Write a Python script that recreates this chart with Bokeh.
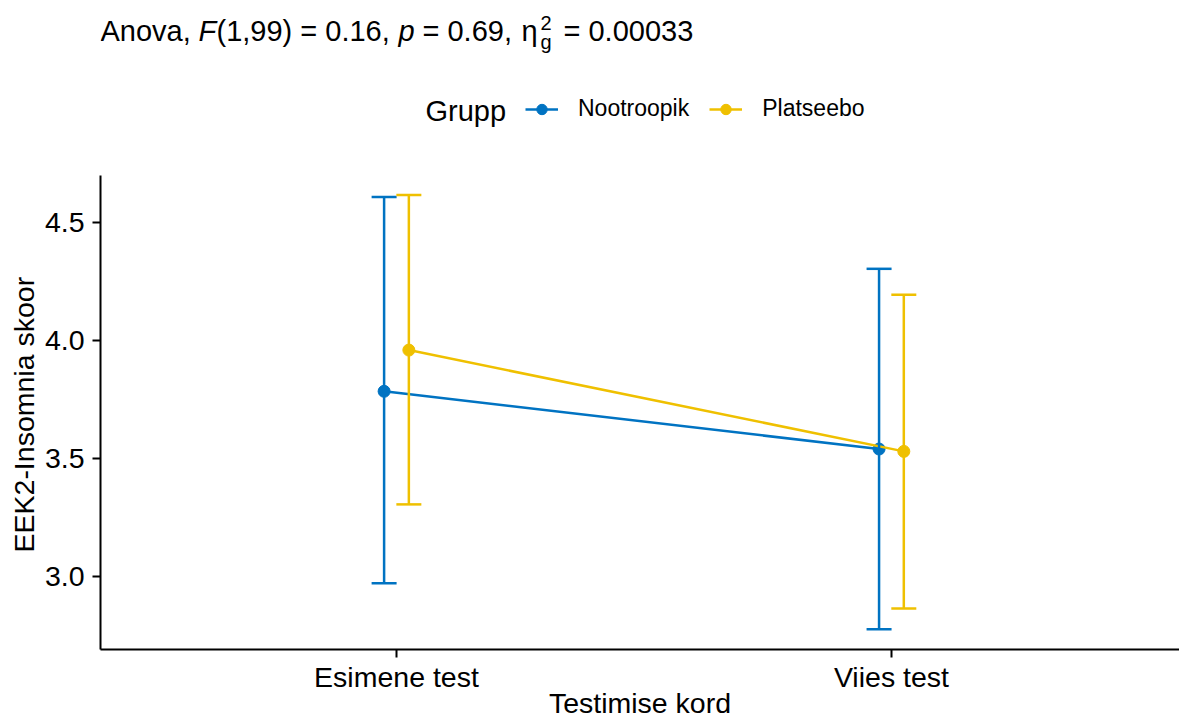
from bokeh.plotting import figure
from bokeh.models import (ColumnDataSource, Whisker, TeeHead, FixedTicker, Label,
                          Legend, LegendItem, Range1d, Title)
from bokeh.embed import file_html
from bokeh.resources import INLINE

# ---------------- data ----------------
categories = ["Esimene test", "Viies test"]
groups = ["Nootroopik", "Platseebo"]
colors = ["#0073C2", "#EFC000"]

noot_mean = [3.785, 3.540]
noot_lower = [2.970, 2.775]
noot_upper = [4.610, 4.305]

plat_mean = [3.960, 3.530]
plat_lower = [3.305, 2.863]
plat_upper = [4.618, 4.195]

y_ticks = [3.0, 3.5, 4.0, 4.5]
y_tick_labels = ["3.0", "3.5", "4.0", "4.5"]

x_title = "Testimise kord"
y_title = "EEK2-Insomnia skoor"
legend_title = "Grupp"

FONT = "Liberation Sans"
dodge = [-0.025, 0.025]

Y_MIN, Y_MAX = 2.689, 4.701          # visible panel range
Y_TOP = 5.444                          # extra headroom for title + legend (frame top)

p = figure(width=1179, height=722, output_backend="svg", toolbar_location=None,
           x_range=Range1d(0.402, 2.582), y_range=Range1d(Y_MIN, Y_TOP),
           min_border_left=100, min_border_right=0, min_border_top=0,
           min_border_bottom=73)
p.background_fill_color = "white"
p.border_fill_color = "white"
p.outline_line_color = None
p.grid.visible = False

xs_base = [i + 1 for i in range(len(categories))]
p.xaxis.ticker = FixedTicker(ticks=xs_base)
p.xaxis.major_label_overrides = {x: c for x, c in zip(xs_base, categories)}
p.yaxis.ticker = FixedTicker(ticks=y_ticks)
p.yaxis.major_label_overrides = {t: l for t, l in zip(y_ticks, y_tick_labels)}
p.yaxis.bounds = (Y_MIN, Y_MAX)

for ax in (p.xaxis, p.yaxis):
    ax.axis_line_width = 2
    ax.axis_line_color = "black"
    ax.major_tick_line_width = 2
    ax.major_tick_line_color = "black"
    ax.major_tick_in = 0
    ax.major_tick_out = 8
    ax.minor_tick_line_color = None
    ax.major_label_text_font = FONT
    ax.major_label_text_font_size = "28.5px"
    ax.major_label_text_color = "black"
    ax.major_label_text_line_height = 1.0
    ax.axis_label_text_font = FONT
    ax.axis_label_text_font_size = "28.5px"
    ax.axis_label_text_font_style = "normal"
    ax.axis_label_text_color = "black"
    ax.axis_label_text_line_height = 1.0
p.xaxis.major_label_standoff = 3
p.yaxis.major_label_standoff = 8
p.xaxis.axis_label = x_title
p.xaxis.axis_label_standoff = -9

# y-axis title, centred on the visible panel range (not the whole frame)
p.add_layout(Title(text=y_title, align="left", offset=97, standoff=4,
                   text_font=FONT, text_font_size="28.5px", text_font_style="normal",
                   text_color="black"), "left")

series = [(noot_mean, noot_lower, noot_upper), (plat_mean, plat_lower, plat_upper)]
legend_items = []
for gi, (name, col, (m, lo, up)) in enumerate(zip(groups, colors, series)):
    xs = [x + dodge[gi] for x in xs_base]
    src = ColumnDataSource(dict(x=xs, mean=m, lower=lo, upper=up))
    ln = p.line("x", "mean", source=src, line_color=col, line_width=2.5)
    w = Whisker(source=src, base="x", upper="upper", lower="lower",
                line_color=col, line_width=2.5, level="glyph",
                upper_head=TeeHead(size=25, line_color=col, line_width=2.5),
                lower_head=TeeHead(size=25, line_color=col, line_width=2.5))
    p.add_layout(w)
    sc = p.scatter("x", "mean", source=src, size=12, fill_color=col, line_color=col)
    legend_items.append(LegendItem(label=name, renderers=[ln, sc]))

legend = Legend(items=legend_items, orientation="horizontal", location=(425, 527),
                glyph_width=33, glyph_height=26, label_height=26, label_standoff=20,
                spacing=20, padding=0, margin=0, border_line_alpha=0,
                background_fill_alpha=0, label_text_font=FONT,
                label_text_font_size="23px", label_text_color="black")
p.add_layout(legend)

def lab(sx, sy, t, size, style="normal"):
    p.add_layout(Label(x=sx, y=sy, x_units="screen", y_units="screen", text=t,
                       text_font=FONT, text_font_size=size, text_font_style=style,
                       text_color="black", text_baseline="alphabetic"))

# legend title (frame-relative screen coords: x from frame left, y up from frame bottom)
lab(325, 539, legend_title, "29px")

# title: Anova, F(1,99) = 0.16, p = 0.69, eta_g^2 = 0.00033
TB = 619
lab(0, TB, "Anova,", "29px")
lab(98, TB, "F", "29px", "italic")
lab(116, TB, "(1,99) = 0.16,", "29px")
lab(298, TB, "p", "29px", "italic")
lab(322, TB, "= 0.69,", "29px")
lab(421, TB, "η", "29px")
lab(440, TB + 8, "2", "20px")
lab(440, TB - 11, "g", "20px")
lab(463, TB, "= 0.00033", "29px")

open("out.html", "w").write(file_html(p, INLINE))
